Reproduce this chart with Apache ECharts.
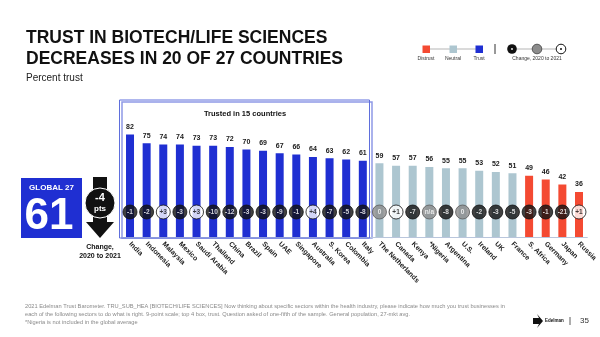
<!DOCTYPE html>
<html>
<head>
<meta charset="utf-8">
<script src="https://cdn.jsdelivr.net/npm/echarts@6/dist/echarts.min.js"></script>
<style>html,body{margin:0;padding:0;background:#fff}#c{width:600px;height:337px}</style>
</head>
<body>
<div id="c"></div>
<script>
const countries = ['India','Indonesia','Malaysia','Mexico','Saudi Arabia','Thailand','China','Brazil','Spain','UAE','Singapore','Australia','S. Korea','Colombia','Italy','The Netherlands','Canada','Kenya','*Nigeria','Argentina','U.S.','Ireland','UK','France','S. Africa','Germany','Japan','Russia'];
const trustValues = [82,75,74,74,73,73,72,70,69,67,66,64,63,62,61,59,57,57,56,55,55,53,52,51,49,46,42,36];
const changes = ['-1','-2','+3','-3','+3','-10','-12','-3','-3','-9','-1','+4','-7','-5','-8','0','+1','-7','n/a','-8','0','-2','-3','-5','-3','-1','-21','+1'];
const globalTrust = '61';
const globalChange = '-4';

const FONT = '"Liberation Sans", Arial, sans-serif';
const C_TRUST = '#1f2fd2', C_NEUTRAL = '#adc6d0', C_DISTRUST = '#f44a32';
function barColor(v){ return v >= 60 ? C_TRUST : (v >= 50 ? C_NEUTRAL : C_DISTRUST); }

const barData = trustValues.map(v => ({ value: v, itemStyle: { color: barColor(v) } }));
const CIRCLE_Y = 20;
const circleData = changes.map(c => {
  let fill = '#111', border = '#111', txt = '#fff';
  if (c.startsWith('+')) { fill = '#fff'; border = '#111'; txt = '#111'; }
  else if (c === '0' || c === 'n/a') { fill = '#8c8c8c'; border = '#5a5a5a'; txt = '#fff'; }
  return { value: CIRCLE_Y, name: c, itemStyle: { color: fill, borderColor: border, borderWidth: 1 }, label: { color: txt } };
});

const chart = echarts.init(document.getElementById('c'), null, { renderer: 'canvas' });

const footnote1 = '2021 Edelman Trust Barometer. TRU_SUB_HEA [BIOTECH/LIFE SCIENCES] Now thinking about specific sectors within the health industry, please indicate how much you trust businesses in';
const footnote2 = 'each of the following sectors to do what is right. 9-point scale; top 4 box, trust. Question asked of one-fifth of the sample. General population, 27-mkt avg.';
const footnote3 = '*Nigeria is not included in the global average';

chart.setOption({
  animation: false,
  textStyle: { fontFamily: FONT },
  grid: { left: 121.7, right: 12.7, top: 112, bottom: 100 },
  xAxis: {
    type: 'category', data: countries,
    axisLine: { show: true, lineStyle: { color: '#b9c6dc', width: 1 } },
    axisTick: { show: false },
    axisLabel: { rotate: -45, interval: 0, fontSize: 7, fontWeight: 'bold', color: '#1a1a1a', margin: 6, fontFamily: FONT }
  },
  yAxis: { type: 'value', min: 0, max: 100, show: false, splitLine: { show: false } },
  series: [
    {
      type: 'bar', data: barData, barWidth: 8, z: 3,
      label: { show: true, position: 'top', distance: 4, fontSize: 7, fontWeight: 'bold', color: '#1a1a1a', fontFamily: FONT }
    },
    {
      type: 'scatter', data: circleData, symbol: 'circle', symbolSize: 14, z: 5,
      label: { show: true, position: 'inside', formatter: p => p.name, fontSize: 6.5, fontWeight: 'bold', fontFamily: FONT }
    }
  ],
  graphic: [
    // title
    { type: 'text', x: 26, y: 38.5, z: 10, style: { text: 'TRUST IN BIOTECH/LIFE SCIENCES', font: 'bold 17.5px ' + FONT, fill: '#111', verticalAlign: 'middle' } },
    { type: 'text', x: 26, y: 59.5, z: 10, style: { text: 'DECREASES IN 20 OF 27 COUNTRIES', font: 'bold 17.5px ' + FONT, fill: '#111', verticalAlign: 'middle' } },
    { type: 'text', x: 26, y: 78, z: 10, style: { text: 'Percent trust', font: '10px ' + FONT, fill: '#222', verticalAlign: 'middle' } },
    // legend
    { type: 'line', z: 10, shape: { x1: 426, y1: 49, x2: 479, y2: 49 }, style: { stroke: '#b5b5b5', lineWidth: 1 } },
    { type: 'rect', z: 11, shape: { x: 422.5, y: 45.5, width: 7.5, height: 7.5 }, style: { fill: C_DISTRUST } },
    { type: 'rect', z: 11, shape: { x: 449.5, y: 45.5, width: 7.5, height: 7.5 }, style: { fill: C_NEUTRAL } },
    { type: 'rect', z: 11, shape: { x: 475.5, y: 45.5, width: 7.5, height: 7.5 }, style: { fill: C_TRUST } },
    { type: 'text', z: 10, x: 426, y: 59, style: { text: 'Distrust', font: '5px ' + FONT, fill: '#333', align: 'center', verticalAlign: 'middle' } },
    { type: 'text', z: 10, x: 453, y: 59, style: { text: 'Neutral', font: '5px ' + FONT, fill: '#333', align: 'center', verticalAlign: 'middle' } },
    { type: 'text', z: 10, x: 479, y: 59, style: { text: 'Trust', font: '5px ' + FONT, fill: '#333', align: 'center', verticalAlign: 'middle' } },
    { type: 'line', z: 10, shape: { x1: 495, y1: 44, x2: 495, y2: 54 }, style: { stroke: '#333', lineWidth: 1 } },
    { type: 'line', z: 10, shape: { x1: 512, y1: 49, x2: 561, y2: 49 }, style: { stroke: '#b5b5b5', lineWidth: 1 } },
    { type: 'circle', z: 11, shape: { cx: 512, cy: 49, r: 4.8 }, style: { fill: '#111' } },
    { type: 'circle', z: 12, shape: { cx: 512, cy: 49, r: 0.9 }, style: { fill: '#fff' } },
    { type: 'circle', z: 11, shape: { cx: 537, cy: 49, r: 4.8 }, style: { fill: '#8c8c8c', stroke: '#555', lineWidth: 1 } },
    { type: 'circle', z: 11, shape: { cx: 561, cy: 49, r: 4.8 }, style: { fill: '#fff', stroke: '#111', lineWidth: 1 } },
    { type: 'circle', z: 12, shape: { cx: 561, cy: 49, r: 1 }, style: { fill: '#111' } },
    { type: 'text', z: 10, x: 537, y: 59, style: { text: 'Change, 2020 to 2021', font: '5px ' + FONT, fill: '#333', align: 'center', verticalAlign: 'middle' } },
    // trusted box
    { type: 'rect', z: 0, shape: { x: 122, y: 102, width: 250, height: 136 }, style: { fill: 'none', stroke: '#8e99e6', lineWidth: 1.5 } },
    { type: 'rect', z: 1, shape: { x: 119.5, y: 100, width: 250, height: 138 }, style: { fill: 'rgba(255,255,255,0)', stroke: '#5f6fdc', lineWidth: 1 } },
    { type: 'text', z: 10, x: 245, y: 114, style: { text: 'Trusted in 15 countries', font: 'bold 7.5px ' + FONT, fill: '#111', align: 'center', verticalAlign: 'middle' } },
    // global box
    { type: 'rect', z: 10, shape: { x: 21, y: 178, width: 61, height: 60 }, style: { fill: C_TRUST } },
    { type: 'text', z: 11, x: 51.5, y: 188, style: { text: 'GLOBAL 27', font: 'bold 8px ' + FONT, fill: '#fff', align: 'center', verticalAlign: 'middle' } },
    { type: 'text', z: 11, x: 49, y: 217, style: { text: globalTrust, font: 'bold 44px ' + FONT, fill: '#fff', align: 'center', verticalAlign: 'middle' } },
    // change arrow
    { type: 'rect', z: 10, shape: { x: 93, y: 177, width: 14, height: 47 }, style: { fill: '#111' } },
    { type: 'polygon', z: 10, shape: { points: [[86, 222], [114, 222], [100, 238]] }, style: { fill: '#111' } },
    { type: 'circle', z: 11, shape: { cx: 100, cy: 203, r: 15 }, style: { fill: '#111', stroke: '#fff', lineWidth: 1 } },
    { type: 'text', z: 12, x: 100, y: 198, style: { text: globalChange, font: 'bold 11px ' + FONT, fill: '#fff', align: 'center', verticalAlign: 'middle' } },
    { type: 'text', z: 12, x: 100, y: 209, style: { text: 'pts', font: 'bold 8px ' + FONT, fill: '#fff', align: 'center', verticalAlign: 'middle' } },
    { type: 'text', z: 10, x: 100, y: 247, style: { text: 'Change,', font: 'bold 7px ' + FONT, fill: '#111', align: 'center', verticalAlign: 'middle' } },
    { type: 'text', z: 10, x: 100, y: 256, style: { text: '2020 to 2021', font: 'bold 7px ' + FONT, fill: '#111', align: 'center', verticalAlign: 'middle' } },
    // footnote
    { type: 'text', z: 10, x: 25, y: 306, style: { text: footnote1, font: '5.7px ' + FONT, fill: '#8a8a8a', verticalAlign: 'middle' } },
    { type: 'text', z: 10, x: 25, y: 314, style: { text: footnote2, font: '5.7px ' + FONT, fill: '#8a8a8a', verticalAlign: 'middle' } },
    { type: 'text', z: 10, x: 25, y: 322.5, style: { text: footnote3, font: '5.7px ' + FONT, fill: '#8a8a8a', verticalAlign: 'middle' } },
    // logo
    { type: 'polygon', z: 10, shape: { points: [[533, 318], [539, 318], [537, 314], [543, 321], [537, 328], [539, 324], [533, 324]] }, style: { fill: '#111' } },
    { type: 'text', z: 10, x: 545, y: 321, style: { text: 'Edelman', font: 'bold 4.5px ' + FONT, fill: '#111', verticalAlign: 'middle' } },
    { type: 'line', z: 10, shape: { x1: 570, y1: 317, x2: 570, y2: 325 }, style: { stroke: '#333', lineWidth: 0.8 } },
    { type: 'text', z: 10, x: 580, y: 321, style: { text: '35', font: '8px ' + FONT, fill: '#333', verticalAlign: 'middle' } }
  ]
});
</script>
</body>
</html>
